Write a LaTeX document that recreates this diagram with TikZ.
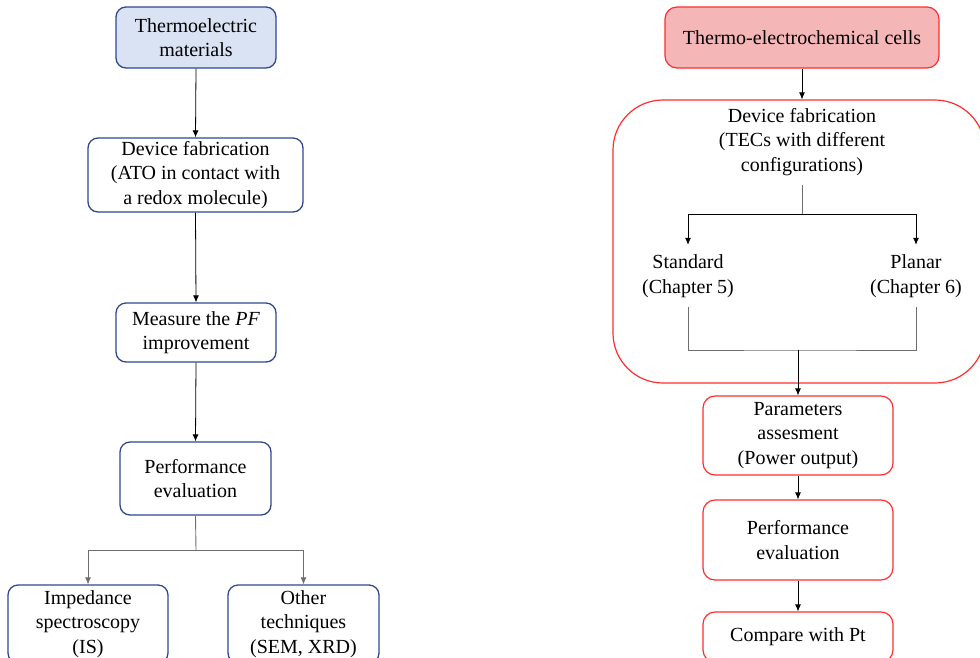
\documentclass[tikz,border=0pt]{standalone}
\usepackage{fontspec}
\setmainfont{Liberation Serif}
\usetikzlibrary{arrows.meta}
\definecolor{bluefill}{RGB}{218,227,243}
\definecolor{blueline}{RGB}{47,72,140}
\definecolor{pinkfill}{RGB}{245,182,183}
\definecolor{redline}{RGB}{255,45,45}
\definecolor{conn}{RGB}{110,110,110}
\tikzset{
  txt/.style={font=\fontsize{20}{24.5}\selectfont, align=center, inner sep=0pt},
  bbox/.style={txt, draw=blueline, line width=1.3pt, rounded corners=10pt},
  rbox/.style={txt, draw=redline, line width=1.2pt, rounded corners=12pt},
  arr/.style={-{Latex[length=7pt,width=6pt]}, line width=0.8pt, black},
  gline/.style={line width=0.9pt, conn},
}
\begin{document}
\begin{tikzpicture}[x=1pt,y=-1pt]
\useasboundingbox (0,0) rectangle (980,657);
\clip (0,0) rectangle (980,657);
% left column
\node[bbox, fill=bluefill, minimum width=160pt, minimum height=61pt] (te) at (196,37.5) {Thermoelectric\\materials};
\node[bbox, minimum width=215pt, minimum height=74pt] (df) at (195.5,175) {Device fabrication\\(ATO in contact with\\a redox molecule)};
\node[bbox, minimum width=160pt, minimum height=59pt] (mp) at (196,332.5) {Measure the \textit{PF}\\improvement};
\node[bbox, minimum width=151pt, minimum height=73pt] (pe) at (195.5,478.5) {Performance\\evaluation};
\node[bbox, minimum width=160pt, minimum height=78pt] (imp) at (88,624) {Impedance\\spectroscopy\\(IS)};
\node[bbox, minimum width=151pt, minimum height=78pt] (oth) at (303.5,624) {Other\\techniques\\(SEM, XRD)};
\draw[arr] (te.south) -- (df.north);
\draw[arr] (df.south) -- (mp.north);
\draw[arr] (mp.south) -- (pe.north);
\coordinate (sp1) at (196,550);
\draw[gline] (pe.south) -- (sp1);
\draw[arr, conn] (sp1) -| (imp.north);
\draw[arr, conn] (sp1) -| (oth.north);
% right column
\node[rbox, fill=pinkfill, minimum width=274pt, minimum height=61pt] (tec) at (802,37.5) {Thermo-electrochemical cells};
\node[draw=redline, line width=1.2pt, rounded corners=50pt, minimum width=372pt, minimum height=283pt, inner sep=0pt] (big) at (799,241.5) {};
\node[txt, minimum height=86pt] (bigt) at (802,142) {Device fabrication\\(TECs with different\\configurations)};
\node[txt, minimum height=62pt] (std) at (688,276) {Standard\\(Chapter 5)};
\node[txt, minimum height=62pt] (pla) at (916,276) {Planar\\(Chapter 6)};
\node[rbox, minimum width=190pt, minimum height=79pt] (par) at (798,435.5) {Parameters\\assesment\\(Power output)};
\node[rbox, minimum width=190pt, minimum height=80pt] (pe2) at (798,540) {Performance\\evaluation};
\node[rbox, minimum width=190pt, minimum height=50pt] (cmp) at (798,637) {Compare with Pt};
\draw[arr] (tec.south) -- (tec.south |- big.north);
\coordinate (sp2) at (802,214);
\draw[gline] (bigt.south) -- (sp2);
\draw[arr] (sp2) -| (std.north);
\draw[arr] (sp2) -| (pla.north);
\coordinate (sp3) at (798,350);
\draw[gline] (std.south) |- (sp3) -| (pla.south);
\draw[arr] (sp3) -- (par.north);
\draw[arr] (par.south) -- (pe2.north);
\draw[arr] (pe2.south) -- (cmp.north);
\end{tikzpicture}
\end{document}
